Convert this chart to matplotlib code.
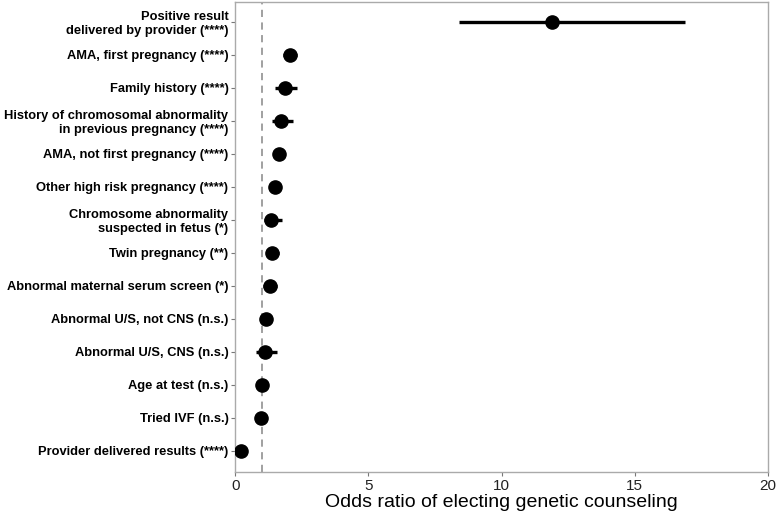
import matplotlib
matplotlib.use("Agg")
import matplotlib.pyplot as plt
import numpy as np

plt.rcParams["font.family"] = ["Liberation Sans", "DejaVu Sans"]

# Faktoren (von oben nach unten), Odds Ratio und Konfidenzintervall
labels = [
    "Positive result\ndelivered by provider (****)",
    "AMA, first pregnancy (****)",
    "Family history (****)",
    "History of chromosomal abnormality\nin previous pregnancy (****)",
    "AMA, not first pregnancy (****)",
    "Other high risk pregnancy (****)",
    "Chromosome abnormality\nsuspected in fetus (*)",
    "Twin pregnancy (**)",
    "Abnormal maternal serum screen (*)",
    "Abnormal U/S, not CNS (n.s.)",
    "Abnormal U/S, CNS (n.s.)",
    "Age at test (n.s.)",
    "Tried IVF (n.s.)",
    "Provider delivered results (****)",
]
odds = [11.9, 2.06, 1.87, 1.71, 1.64, 1.50, 1.35, 1.36, 1.29, 1.14, 1.10, 1.00, 0.96, 0.21]
ci_low = [8.4, 1.80, 1.50, 1.37, 1.45, 1.35, 1.09, 1.15, 1.05, 0.95, 0.79, 0.97, 0.80, 0.15]
ci_high = [16.9, 2.30, 2.33, 2.15, 1.85, 1.65, 1.75, 1.62, 1.56, 1.35, 1.56, 1.03, 1.15, 0.28]
x_ticks = [0, 5, 10, 15, 20]

fig = plt.figure(figsize=(7.77, 5.12), dpi=100)
ax = fig.add_axes([0.303, 0.078, 0.685, 0.918])

y = np.arange(len(labels))[::-1]
# Referenzlinie bei OR = 1 hinter den Punkten
ax.axvline(1, color="#999999", linestyle=(0, (4, 3)), linewidth=1.3, zorder=1)
ax.hlines(y, ci_low, ci_high, color="black", linewidth=2.4, zorder=2)
ax.plot(odds, y, "o", color="black", markersize=9.5, zorder=3)

ax.set_xlim(0, 20)
ax.set_ylim(-0.65, len(labels) - 0.4)
ax.set_xticks(x_ticks)
ax.set_xticklabels([str(t) for t in x_ticks], fontsize=11, color="#222222")
ax.set_yticks(y)
ax.set_yticklabels(labels, fontsize=9.3, fontweight="bold", linespacing=1.15)
ax.set_xlabel("Odds ratio of electing genetic counseling", fontsize=14, labelpad=1)

for s in ax.spines.values():
    s.set_color("#aaaaaa")
    s.set_linewidth(1.0)
ax.tick_params(axis="both", color="#777777", length=3, width=0.8, pad=2)

fig.savefig("out.png", dpi=100)
